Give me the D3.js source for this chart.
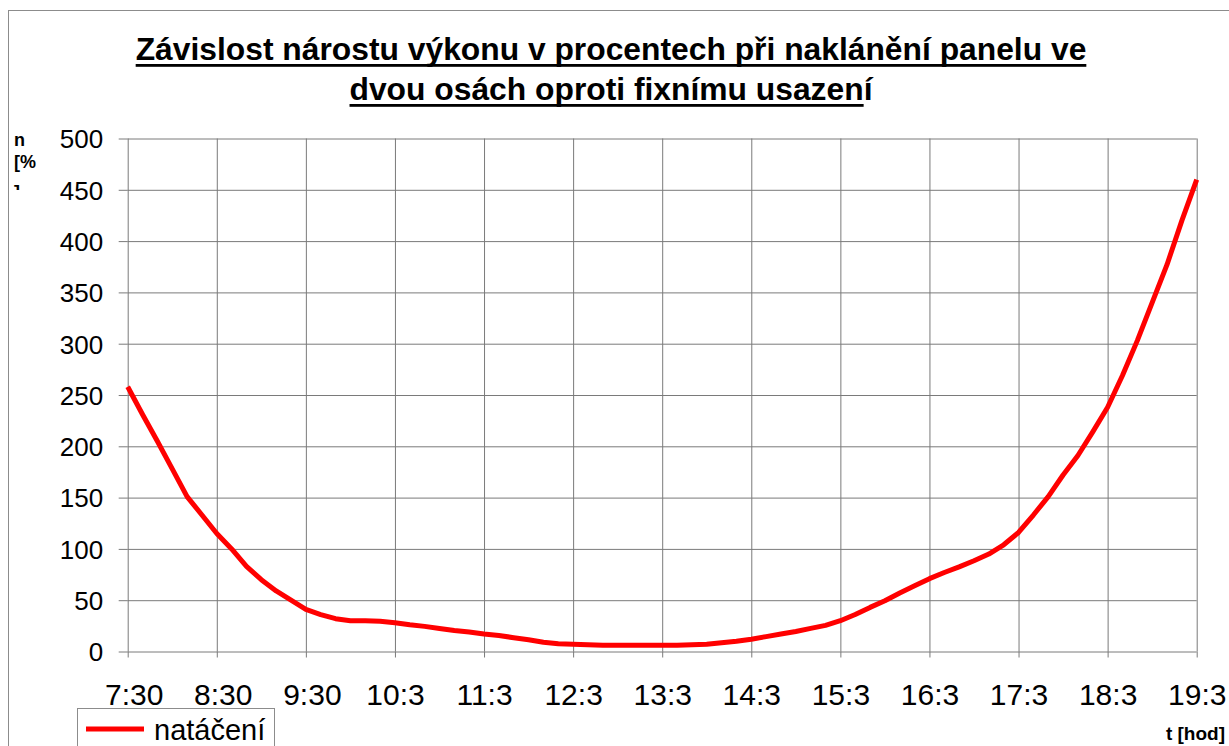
<!DOCTYPE html>
<html>
<head>
<meta charset="utf-8">
<script src="https://cdn.jsdelivr.net/npm/d3@7"></script>
<style>
  html, body { margin: 0; padding: 0; background: #fff; }
  svg { display: block; }
  text { font-family: "Liberation Sans", Arial, sans-serif; fill: #000; }
</style>
</head>
<body>
<svg id="chart" width="1229" height="746"></svg>
<script>
// Měření: časy odečtu po 10 minutách a nárůst výkonu [%]
const times = [
  "7:30","7:40","7:50",
  "8:00","8:10","8:20","8:30","8:40","8:50",
  "9:00","9:10","9:20","9:30","9:40","9:50",
  "10:00","10:10","10:20","10:30","10:40","10:50",
  "11:00","11:10","11:20","11:30","11:40","11:50",
  "12:00","12:10","12:20","12:30","12:40","12:50",
  "13:00","13:10","13:20","13:30","13:40","13:50",
  "14:00","14:10","14:20","14:30","14:40","14:50",
  "15:00","15:10","15:20","15:30","15:40","15:50",
  "16:00","16:10","16:20","16:30","16:40","16:50",
  "17:00","17:10","17:20","17:30","17:40","17:50",
  "18:00","18:10","18:20","18:30","18:40","18:50",
  "19:00","19:10","19:20","19:30"
];
const nataceni = [
  258, 231, 205,
  178, 151, 133, 115, 100, 83,
  70, 59, 50, 41, 36, 32,
  30, 30, 29.5, 28, 26, 24.5,
  22.5, 20.5, 19, 17, 15.5, 13.5,
  11.5, 9, 7.5, 7, 6.5, 6,
  6, 6, 6, 6, 6, 6.5,
  7, 8.5, 10, 12, 14.5, 17,
  19.5, 22.5, 25.5, 30, 36, 43,
  49.5, 57, 64, 71, 77, 82.5,
  88.5, 95, 104, 116, 133, 151,
  172, 191, 214, 238, 269, 303,
  340, 377, 420, 460
];
const xTickTimes  = ["7:30","8:30","9:30","10:30","11:30","12:30","13:30","14:30","15:30","16:30","17:30","18:30","19:30"];
const xTickLabels = ["7:30","8:30","9:30","10:3","11:3","12:3","13:3","14:3","15:3","16:3","17:3","18:3","19:3"];
const yTicks = [0, 50, 100, 150, 200, 250, 300, 350, 400, 450, 500];

const titleLines = [
  { text: "Závislost nárostu výkonu v procentech při naklánění panelu ve", tail: "" },
  { text: "dvou osách oproti fixnímu usazen", tail: "í" }
];
const seriesName = "natáčení";
const yTitle = ["n", "[%", "]"];
const xTitle = "t [hod]";

const toMin = s => { const [h, m] = s.split(":").map(Number); return h * 60 + m; };
const t0 = toMin("7:30");

const svg = d3.select("#chart");
const W = 1229, H = 746;
const plot = { left: 127.7, right: 1196.7, top: 138.5, bottom: 651.5 };

// Outer chart frame (continues past the right and bottom edges)
svg.append("rect")
  .attr("x", 8.5).attr("y", 10.5)
  .attr("width", W + 20).attr("height", H + 20)
  .attr("fill", "#fff").attr("stroke", "#8c8c8c").attr("stroke-width", 1);

const x = d3.scaleLinear().domain([0, toMin("19:30") - t0]).range([plot.left, plot.right]);
const y = d3.scaleLinear().domain([0, 500]).range([plot.bottom, plot.top]);

const gridColor = "#7a7a7a";

// Horizontal grid
svg.append("g")
  .attr("transform", `translate(${plot.left},0)`)
  .call(d3.axisLeft(y).tickValues(yTicks).tickSize(-(plot.right - plot.left)).tickFormat(""))
  .call(g => g.select(".domain").remove())
  .call(g => g.selectAll("line").attr("stroke", gridColor).attr("stroke-width", 1));

// Vertical grid
svg.append("g")
  .attr("transform", `translate(0,${plot.top})`)
  .call(d3.axisBottom(x).tickValues(xTickTimes.map(s => toMin(s) - t0)).tickSize(plot.bottom - plot.top).tickFormat(""))
  .call(g => g.select(".domain").remove())
  .call(g => g.selectAll("line").attr("stroke", gridColor).attr("stroke-width", 1));

// Y axis ticks and labels
svg.append("g")
  .attr("transform", `translate(${plot.left},0)`)
  .call(d3.axisLeft(y).tickValues(yTicks).tickSize(9).tickPadding(15.5))
  .call(g => g.select(".domain").remove())
  .call(g => g.selectAll("line").attr("stroke", gridColor))
  .call(g => g.selectAll("text")
    .attr("font-size", 26).attr("font-family", '"Liberation Sans", Arial, sans-serif')
    .attr("fill", "#000").attr("dy", "0.36em"));

// X axis ticks and labels (full "H:30" labels sit a little right of their tick)
svg.append("g")
  .attr("transform", `translate(0,${plot.bottom})`)
  .call(d3.axisBottom(x)
    .tickValues(xTickTimes.map(s => toMin(s) - t0))
    .tickFormat((d, i) => xTickLabels[i])
    .tickSize(6))
  .call(g => g.select(".domain").remove())
  .call(g => g.selectAll("line").attr("stroke", gridColor))
  .call(g => g.selectAll("text")
    .attr("font-size", 30).attr("font-family", '"Liberation Sans", Arial, sans-serif')
    .attr("fill", "#000").attr("y", 53.5).attr("dy", 0)
    .attr("dx", (d, i) => xTickLabels[i] === xTickTimes[i] ? 6 : 0));

// Data line
const line = d3.line()
  .x((d, i) => x(toMin(times[i]) - t0))
  .y(d => y(d));
svg.append("path")
  .datum(nataceni)
  .attr("d", line)
  .attr("fill", "none")
  .attr("stroke", "#ff0000")
  .attr("stroke-width", 5)
  .attr("stroke-linejoin", "round");

// Title with underline
const titleG = svg.append("g");
const titleBase = [60, 100];
titleLines.forEach((ln, i) => {
  const t = titleG.append("text")
    .attr("x", 611).attr("y", titleBase[i])
    .attr("text-anchor", "middle")
    .attr("font-size", 31.8).attr("font-weight", "bold");
  const main = t.append("tspan").text(ln.text);
  if (ln.tail) t.append("tspan").text(ln.tail);
  const bb = t.node().getBBox();
  const wMain = main.node().getComputedTextLength();
  titleG.append("rect")
    .attr("x", bb.x).attr("y", titleBase[i] + 4)
    .attr("width", wMain).attr("height", 2.8)
    .attr("fill", "#000");
});

// Y axis title, clipped by its box
svg.append("clipPath").attr("id", "ytclip")
  .append("rect").attr("x", 0).attr("y", 120).attr("width", 60).attr("height", 70);
const yt = svg.append("g").attr("clip-path", "url(#ytclip)");
const ytBase = [146, 168, 198];
yTitle.forEach((s, i) => {
  yt.append("text")
    .attr("x", 14).attr("y", ytBase[i])
    .attr("font-size", 18).attr("font-weight", "bold")
    .text(s);
});

// X axis title
svg.append("text")
  .attr("x", 1225).attr("y", 740)
  .attr("text-anchor", "end")
  .attr("font-size", 19).attr("font-weight", "bold")
  .text(xTitle);

// Legend
const lg = svg.append("g");
lg.append("rect")
  .attr("x", 77.5).attr("y", 708.5).attr("width", 197).attr("height", 60)
  .attr("fill", "#fff").attr("stroke", "#8c8c8c").attr("stroke-width", 1);
lg.append("line")
  .attr("x1", 86).attr("x2", 144).attr("y1", 729).attr("y2", 729)
  .attr("stroke", "#ff0000").attr("stroke-width", 5);
lg.append("text")
  .attr("x", 154).attr("y", 740)
  .attr("font-size", 29)
  .text(seriesName);
</script>
</body>
</html>
